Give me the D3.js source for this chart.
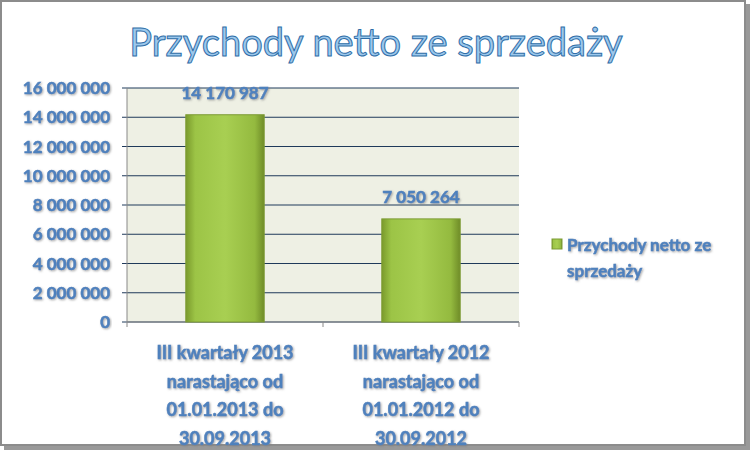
<!DOCTYPE html>
<html><head><meta charset="utf-8">
<script src="https://cdn.jsdelivr.net/npm/d3@7"></script>
<style>body{margin:0;background:#fff}text{font-family:Lato,"Open Sans",sans-serif;font-weight:bold}.lab{stroke:#4f81bd;stroke-width:0.5px}</style>
</head><body><div id="chart"></div>
<script>
var categories = [
  ["III kwartały 2013", "narastająco od", "01.01.2013 do", "30.09.2013"],
  ["III kwartały 2012", "narastająco od", "01.01.2012 do", "30.09.2012"]
];
var values = [14170987, 7050264];
var ticks = [0, 2000000, 4000000, 6000000, 8000000, 10000000, 12000000, 14000000, 16000000];
var seriesName = ["Przychody netto ze", "sprzedaży"];

function main() {
  var W = 752, H = 452;
  var margin = { top: 88, left: 127, right: 233, bottom: 130 };
  var width = W - margin.left - margin.right, height = H - margin.top - margin.bottom;
  var fmt = function (v) { return d3.format(",")(v).replace(/,/g, " "); };
  var blue = "#4f81bd";

  var svg = d3.select("#chart").append("svg").attr("width", W).attr("height", H);
  var defs = svg.append("defs");
  var gr = defs.append("linearGradient").attr("id", "bar").attr("x1", 0).attr("x2", 1).attr("y1", 0).attr("y2", 0);
  gr.append("stop").attr("offset", "0").attr("stop-color", "#7a9a2c");
  gr.append("stop").attr("offset", "0.12").attr("stop-color", "#9cc446");
  gr.append("stop").attr("offset", "0.5").attr("stop-color", "#a8cf52");
  gr.append("stop").attr("offset", "0.88").attr("stop-color", "#94ba3f");
  gr.append("stop").attr("offset", "1").attr("stop-color", "#6f8c28");
  var sh = defs.append("filter").attr("id", "ts");
  sh.append("feDropShadow").attr("dx", 1).attr("dy", 1).attr("stdDeviation", 0.8).attr("flood-color", "#7f7f7f").attr("flood-opacity", 0.7);

  // frame
  svg.append("rect").attr("x", 4).attr("y", 4).attr("width", W - 6).attr("height", H - 6).attr("fill", "#999");
  svg.append("rect").attr("x", 1).attr("y", 1).attr("width", W - 8).attr("height", H - 8).attr("fill", "#fff").attr("stroke", "#8c8c8c").attr("stroke-width", 2);

  svg.append("text").attr("x", 376).attr("y", 56).attr("text-anchor", "middle")
    .style("font-size", "38px").style("font-weight", "normal")
    .attr("fill", "#9cc8ec").attr("stroke", "#2f6ea8").attr("stroke-width", 1)
    .text("Przychody netto ze sprzedaży");

  var g = svg.append("g").attr("transform", "translate(" + margin.left + "," + margin.top + ")");
  var x = d3.scaleBand().domain(d3.range(categories.length)).range([0, width]).paddingInner(0.6).paddingOuter(0.3);
  var y = d3.scaleLinear().domain([0, 16000000]).range([height, 0]);

  g.append("rect").attr("width", width).attr("height", height).attr("fill", "#eef0e4");
  g.selectAll(".grid").data(ticks).enter().append("line")
    .attr("x1", -5).attr("x2", width).attr("y1", function (d) { return y(d); }).attr("y2", function (d) { return y(d); })
    .attr("stroke", "#1f3a5a").attr("stroke-width", 1);
  g.append("line").attr("x1", 0).attr("x2", 0).attr("y1", 0).attr("y2", height).attr("stroke", "#888");
  g.append("line").attr("x1", 0).attr("x2", width).attr("y1", height).attr("y2", height).attr("stroke", "#888");
  [0, width / 2, width].forEach(function (t) {
    g.append("line").attr("x1", t).attr("x2", t).attr("y1", height).attr("y2", height + 5).attr("stroke", "#888");
  });

  g.selectAll(".ylab").data(ticks).enter().append("text").attr("class", "lab")
    .attr("x", -17).attr("y", function (d) { return y(d) + 6; }).attr("text-anchor", "end")
    .attr("fill", blue).attr("filter", "url(#ts)").style("font-size", "17px").text(fmt);

  g.selectAll(".bar").data(values).enter().append("rect")
    .attr("x", function (d, i) { return x(i); }).attr("width", x.bandwidth())
    .attr("y", function (d) { return y(d); }).attr("height", function (d) { return height - y(d); })
    .attr("fill", "url(#bar)").attr("stroke", "#7d9b34");

  g.selectAll(".val").data(values).enter().append("text").attr("class", "lab")
    .attr("x", function (d, i) { return x(i) + x.bandwidth() / 2; }).attr("y", function (d) { return y(d) - 16; })
    .attr("text-anchor", "middle").attr("fill", blue).attr("filter", "url(#ts)").style("font-size", "17px").text(fmt);

  categories.forEach(function (lines, i) {
    var t = g.append("text").attr("class", "lab").attr("text-anchor", "middle").attr("fill", blue).attr("filter", "url(#ts)").style("font-size", "18px");
    lines.forEach(function (l, j) {
      t.append("tspan").attr("x", x(i) + x.bandwidth() / 2).attr("y", height + 37 + j * 28.5).text(l);
    });
  });

  svg.append("rect").attr("x", 552).attr("y", 239).attr("width", 10).attr("height", 10).attr("fill", "url(#bar)").attr("stroke", "#7d9b34");
  var lt = svg.append("text").attr("class", "lab").attr("fill", blue).attr("filter", "url(#ts)").style("font-size", "17px");
  seriesName.forEach(function (s, j) {
    lt.append("tspan").attr("x", 567).attr("y", 251 + j * 26).text(s);
  });
}
window.addEventListener("load", main);
</script></body></html>
